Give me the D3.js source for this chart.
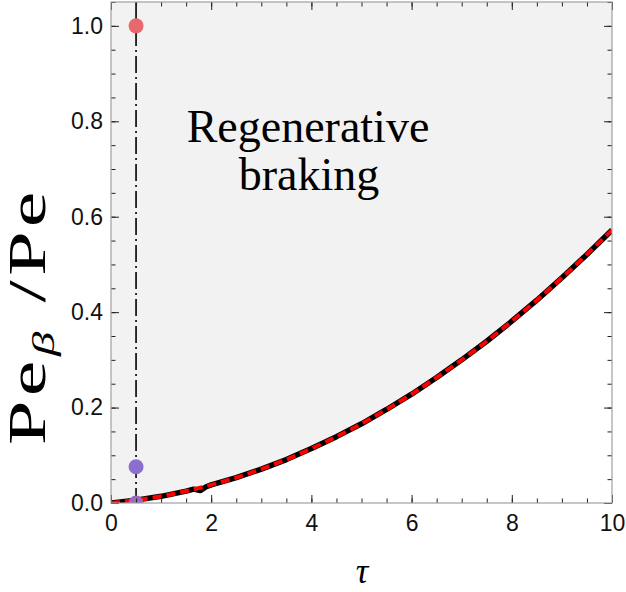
<!DOCTYPE html>
<html>
<head>
<meta charset="utf-8">
<script src="https://cdn.jsdelivr.net/npm/d3@7"></script>
<style>
body { margin: 0; background: #fff; }
</style>
</head>
<body>
<script>
var margin = {top: 2, right: 14, bottom: 89, left: 111};
var width = 626 - margin.left - margin.right;
var height = 592 - margin.top - margin.bottom;

// boundary curve Pe_beta/Pe vs tau
var tauValues = [0, 0.5, 1, 1.5, 2, 2.5, 3, 3.5, 4, 4.5, 5, 5.5, 6, 6.5, 7, 7.5, 8, 8.5, 9, 9.5, 10];
var ratioValues = [0, 0.006, 0.014, 0.025, 0.038, 0.053, 0.071, 0.091, 0.114, 0.139, 0.166, 0.196, 0.228, 0.263, 0.300, 0.339, 0.381, 0.425, 0.472, 0.521, 0.572];
// solid black curve has a small notch near tau = 1.78
var solidTau = [0, 0.5, 1, 1.5, 1.65, 1.78, 1.9, 2, 2.5, 3, 3.5, 4, 4.5, 5, 5.5, 6, 6.5, 7, 7.5, 8, 8.5, 9, 9.5, 10];
var solidValues = [0, 0.006, 0.014, 0.025, 0.029, 0.026, 0.034, 0.038, 0.053, 0.071, 0.091, 0.114, 0.139, 0.166, 0.196, 0.228, 0.263, 0.300, 0.339, 0.381, 0.425, 0.472, 0.521, 0.572];

var markerTau = 0.5;
var pointValues = [1.0, 0.076, 0.0];
var pointColors = ["#e8696b", "#8a6fd0", "#9d68c0"];

var xTicks = [0, 2, 4, 6, 8, 10];
var yTicks = [0, 0.2, 0.4, 0.6, 0.8, 1.0];

var xScale = d3.scaleLinear().domain([0, 10]).range([0, width]);
var yScale = d3.scaleLinear().domain([0, 1.05]).range([height, 0]);

var svg = d3.select("body").append("svg")
.attr("width", 626)
.attr("height", 592);

var mySVG = svg.append("g")
.attr("transform", "translate(" + margin.left + "," + margin.top + ")");

mySVG.append("clipPath").attr("id", "clip")
.append("rect").attr("width", width).attr("height", height);

var plot = mySVG.append("g").attr("clip-path", "url(#clip)");

var curve = tauValues.map(function(t, i) { return [t, ratioValues[i]]; });
var solid = solidTau.map(function(t, i) { return [t, solidValues[i]]; });

// shaded region above the curve
var area = d3.area()
.x(function(d) { return xScale(d[0]); })
.y0(0)
.y1(function(d) { return yScale(d[1]); })
.curve(d3.curveMonotoneX);

plot.append("path")
.datum(curve)
.attr("d", area)
.attr("fill", "#f2f2f2");

var line = d3.line()
.x(function(d) { return xScale(d[0]); })
.y(function(d) { return yScale(d[1]); })
.curve(d3.curveMonotoneX);

plot.append("path")
.datum(solid)
.attr("d", d3.line()
  .x(function(d) { return xScale(d[0]); })
  .y(function(d) { return yScale(d[1]); }))
.attr("fill", "none")
.attr("stroke", "#000")
.attr("stroke-width", 5.5)
.attr("stroke-linejoin", "round");

plot.append("path")
.datum(curve)
.attr("d", line)
.attr("fill", "none")
.attr("stroke", "#ff0000")
.attr("stroke-width", 4)
.attr("stroke-dasharray", "9,5");

// dash-dot marker line
plot.append("line")
.attr("x1", xScale(markerTau)).attr("x2", xScale(markerTau))
.attr("y1", 0).attr("y2", height)
.attr("stroke", "#000")
.attr("stroke-width", 1.6)
.attr("stroke-dasharray", "17,4,2,4");

plot.selectAll("circle")
.data(pointValues)
.enter()
.append("circle")
.attr("cx", xScale(markerTau))
.attr("cy", function(d) { return yScale(d); })
.attr("r", 7.5)
.attr("fill", function(d, i) { return pointColors[i]; });

// axes
function minor(step, max) {
	var out = [];
	for (var v = 0; v <= max + 1e-9; v += step) out.push(+v.toFixed(3));
	return out;
}
var xMinor = minor(0.5, 10);
var yMinor = minor(0.05, 1.05);

function styleAxis(g) {
	g.select(".domain").remove();
	g.selectAll(".tick line").attr("stroke", "#222").attr("stroke-width", 1);
	g.selectAll(".tick text").attr("fill", "#111")
	.style("font-family", "'Liberation Sans', Arial, sans-serif")
	.style("font-size", "23px");
}

mySVG.append("g").attr("transform", "translate(0," + height + ")")
.call(d3.axisBottom(xScale).tickValues(xTicks).tickSize(-8).tickPadding(12).tickFormat(d3.format("d")))
.call(styleAxis);
mySVG.append("g").attr("transform", "translate(0," + height + ")")
.call(d3.axisBottom(xScale).tickValues(xMinor).tickSize(-4.5).tickFormat(""))
.call(styleAxis);
mySVG.append("g")
.call(d3.axisTop(xScale).tickValues(xTicks).tickSize(-8).tickFormat(""))
.call(styleAxis);
mySVG.append("g")
.call(d3.axisTop(xScale).tickValues(xMinor).tickSize(-4.5).tickFormat(""))
.call(styleAxis);

mySVG.append("g")
.call(d3.axisLeft(yScale).tickValues(yTicks).tickSize(-8).tickPadding(8).tickFormat(d3.format(".1f")))
.call(styleAxis);
mySVG.append("g")
.call(d3.axisLeft(yScale).tickValues(yMinor).tickSize(-4.5).tickFormat(""))
.call(styleAxis);
mySVG.append("g").attr("transform", "translate(" + width + ",0)")
.call(d3.axisRight(yScale).tickValues(yTicks).tickSize(-8).tickFormat(""))
.call(styleAxis);
mySVG.append("g").attr("transform", "translate(" + width + ",0)")
.call(d3.axisRight(yScale).tickValues(yMinor).tickSize(-4.5).tickFormat(""))
.call(styleAxis);

// frame
mySVG.append("rect")
.attr("width", width).attr("height", height)
.attr("fill", "none")
.attr("stroke", "#a0a0a0")
.attr("stroke-width", 1.2);

// region label
var label = mySVG.append("text")
.attr("text-anchor", "middle")
.style("font-family", "'Liberation Serif', 'Times New Roman', serif")
.style("font-size", "46px")
.attr("fill", "#000");
label.append("tspan").attr("x", 197).attr("y", 140).text("Regenerative");
label.append("tspan").attr("x", 198).attr("y", 188).text("braking");

// axis titles
svg.append("text")
.attr("x", 362).attr("y", 583)
.attr("text-anchor", "middle")
.style("font-family", "'Liberation Serif', 'Times New Roman', serif")
.style("font-style", "italic")
.style("font-size", "35px")
.text("τ");

var yTitle = svg.append("text")
.attr("transform", "translate(45,316) rotate(-90)")
.attr("text-anchor", "middle")
.attr("textLength", 258)
.attr("lengthAdjust", "spacingAndGlyphs")
.style("font-family", "'Liberation Serif', 'Times New Roman', serif")
.style("font-size", "52px")
.style("letter-spacing", "3px");
yTitle.append("tspan").text("Pe");
yTitle.append("tspan").attr("dy", 9).style("font-size", "32px").style("font-style", "italic").text("β");
yTitle.append("tspan").attr("dy", -9).text(" /Pe");
</script>
</body>
</html>
